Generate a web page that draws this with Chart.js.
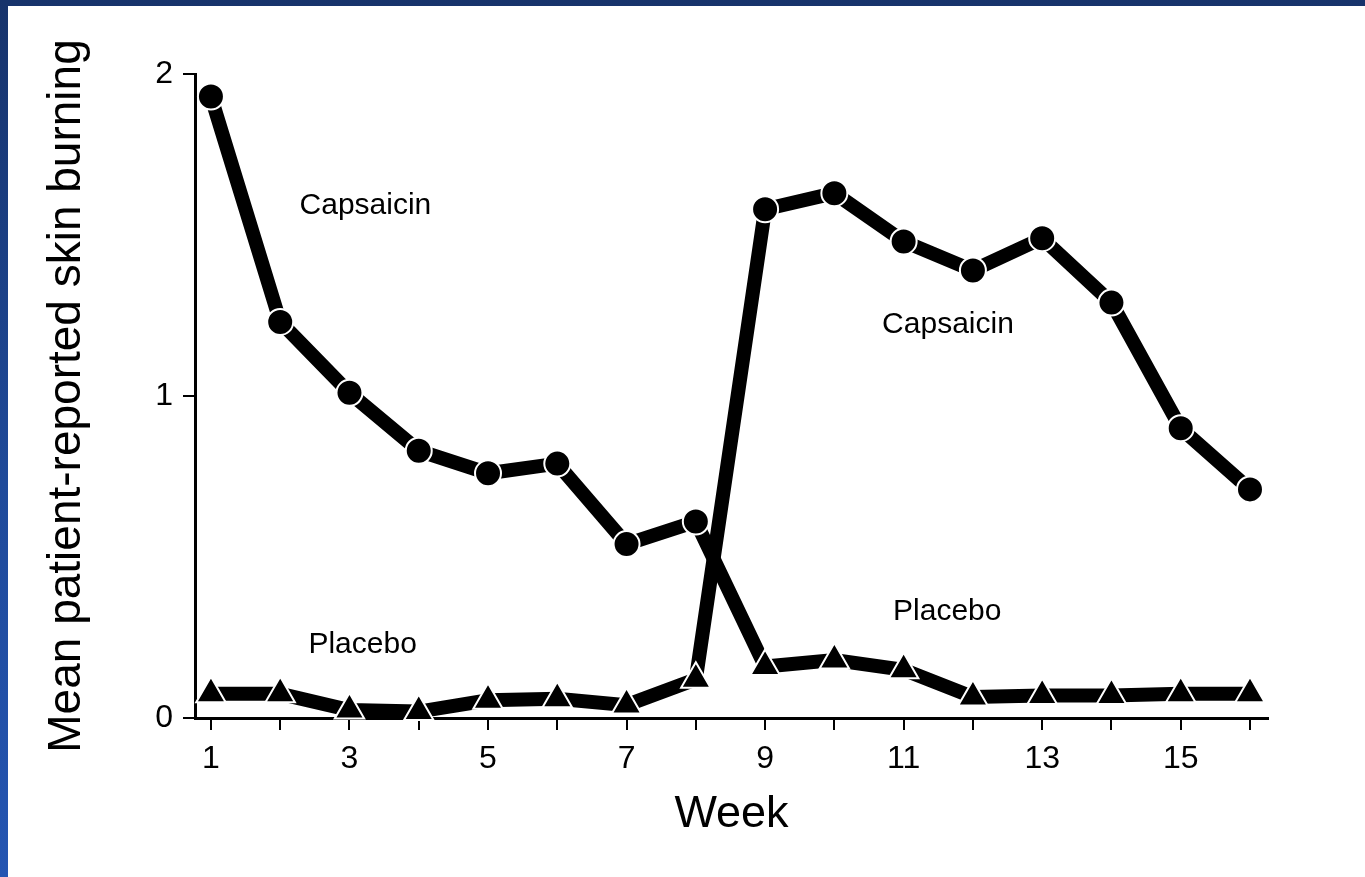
<!DOCTYPE html>
<html>
<head>
<meta charset="utf-8">
<script src="https://cdn.jsdelivr.net/npm/chart.js@4.4.1/dist/chart.umd.min.js"></script>
<style>
  html, body { margin: 0; padding: 0; }
  body {
    width: 1365px; height: 877px; overflow: hidden; position: relative;
    background: linear-gradient(to bottom, #17336b 0%, #1f4a9a 55%, #2455b2 100%);
  }
  #chart { position: absolute; left: 8px; top: 6px; background: #ffffff; }
</style>
</head>
<body>
<canvas id="chart" width="1357" height="871"></canvas>
<script>
// Crossover study: group A gets capsaicin weeks 1-8, group B weeks 9-16
const weeks = [1, 2, 3, 4, 5, 6, 7, 8, 9, 10, 11, 12, 13, 14, 15, 16];
const groupA = [1.93, 1.23, 1.01, 0.83, 0.76, 0.79, 0.54, 0.61, 0.16, 0.18, 0.15, 0.065, 0.07, 0.07, 0.075, 0.075];
const groupB = [0.075, 0.075, 0.025, 0.02, 0.055, 0.06, 0.04, 0.12, 1.58, 1.63, 1.48, 1.39, 1.49, 1.29, 0.90, 0.71];
const yTicks = [0, 1, 2];

// text labels inside the plot
const noteTexts = ['Capsaicin', 'Capsaicin', 'Placebo', 'Placebo'];
const noteWeeks = [3.23, 11.64, 3.19, 11.63];
const noteValues = [1.59, 1.22, 0.227, 0.33];

const FONT = '"Liberation Sans", Arial, Helvetica, sans-serif';

// circle while on capsaicin, triangle while on placebo
const styleA = ctx => (weeks[ctx.dataIndex] <= 8 ? 'circle' : 'triangle');
const styleB = ctx => (weeks[ctx.dataIndex] <= 8 ? 'triangle' : 'circle');
const radiusFor = fn => ctx => (fn(ctx) === 'circle' ? 13 : 17);

const makeSet = (label, values, styleFn) => ({
    label: label,
    data: weeks.map((w, i) => ({ x: w, y: values[i] })),
    borderColor: '#000',
    borderWidth: 14,
    backgroundColor: '#000',
    pointStyle: styleFn,
    pointRadius: radiusFor(styleFn),
    pointBackgroundColor: '#000',
    pointBorderColor: '#fff',
    pointBorderWidth: 2,
    tension: 0,
    clip: false
});

const notesPlugin = {
    id: 'notes',
    afterDatasetsDraw(chart) {
        const { ctx, scales } = chart;
        ctx.save();
        ctx.fillStyle = '#000';
        ctx.font = '30px ' + FONT;
        ctx.textAlign = 'center';
        ctx.textBaseline = 'middle';
        noteTexts.forEach((t, i) => {
            ctx.fillText(t, scales.x.getPixelForValue(noteWeeks[i]), scales.y.getPixelForValue(noteValues[i]));
        });
        ctx.restore();
    }
};

const ctx = document.getElementById('chart').getContext('2d');
new Chart(ctx, {
    type: 'line',
    data: {
        datasets: [makeSet('Group A', groupA, styleA), makeSet('Group B', groupB, styleB)]
    },
    options: {
        responsive: false,
        animation: false,
        layout: { padding: { top: 68, right: 97, left: 0, bottom: 0 } },
        plugins: { legend: { display: false }, tooltip: { enabled: false } },
        scales: {
            x: {
                type: 'linear',
                min: 0.77,
                max: 16.26,
                afterFit: s => { s.height = 159; },
                border: { display: true, color: '#000', width: 3 },
                grid: { drawOnChartArea: false, drawTicks: true, tickLength: 12, color: '#000', lineWidth: 2 },
                ticks: {
                    stepSize: 1,
                    includeBounds: false,
                    autoSkip: false,
                    maxRotation: 0,
                    padding: 10,
                    color: '#000',
                    font: { family: FONT, size: 32 },
                    callback: v => (v % 2 === 1 ? String(v) : '')
                },
                title: {
                    display: true,
                    text: 'Week',
                    color: '#000',
                    font: { family: FONT, size: 45 },
                    padding: { top: 0, bottom: 35 }
                }
            },
            y: {
                min: 0,
                max: 2,
                afterFit: s => { s.width = 187; },
                afterBuildTicks: s => { s.ticks = yTicks.map(v => ({ value: v })); },
                border: { display: true, color: '#000', width: 3 },
                grid: { drawOnChartArea: false, drawTicks: true, tickLength: 12, color: '#000', lineWidth: 2 },
                ticks: {
                    padding: 10,
                    color: '#000',
                    font: { family: FONT, size: 32 }
                },
                title: {
                    display: true,
                    text: 'Mean patient-reported skin burning',
                    color: '#000',
                    font: { family: FONT, size: 46 },
                    padding: { top: 32, bottom: 0 }
                }
            }
        }
    },
    plugins: [notesPlugin]
});
</script>
</body>
</html>
